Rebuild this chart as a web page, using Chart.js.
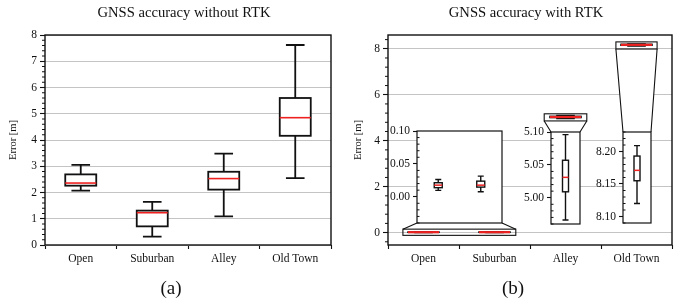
<!DOCTYPE html>
<html><head><meta charset="utf-8">
<script src="https://cdn.jsdelivr.net/npm/chart.js@4.4.0/dist/chart.umd.min.js"></script>
<style>
html,body{margin:0;padding:0;background:#fff;}
#wrap{position:relative;width:678px;height:305px;overflow:hidden;background:#fff;}
canvas{position:absolute;}
</style></head><body><div id="wrap">
<canvas id="ca" width="339" height="305" style="left:0;top:0;width:339px;height:305px"></canvas>
<canvas id="cb" width="339" height="305" style="left:339px;top:0;width:339px;height:305px"></canvas>
<canvas id="i1"></canvas><canvas id="i2"></canvas><canvas id="i3"></canvas>
</div>
<script>
// ---------------- DATA ----------------
const categories = ['Open', 'Suburban', 'Alley', 'Old Town'];

// (a) GNSS accuracy without RTK — box-plot statistics, error in metres
const noRtkWhiskerLow  = [2.07, 0.32, 1.09, 2.55];
const noRtkQ1          = [2.26, 0.71, 2.11, 4.16];
const noRtkMedian      = [2.36, 1.23, 2.53, 4.85];
const noRtkQ3          = [2.69, 1.31, 2.79, 5.60];
const noRtkWhiskerHigh = [3.05, 1.64, 3.48, 7.62];

// (b) GNSS accuracy with RTK — box-plot statistics, error in metres
const rtkWhiskerLow  = [0.0096, 0.0076, 4.966, 8.120];
const rtkQ1          = [0.0137, 0.0146, 5.009, 8.155];
const rtkMedian      = [0.0176, 0.0176, 5.031, 8.171];
const rtkQ3          = [0.0213, 0.0237, 5.057, 8.193];
const rtkWhiskerHigh = [0.0263, 0.0313, 5.096, 8.209];

// tick labels
const yTicksA = [0, 1, 2, 3, 4, 5, 6, 7, 8];
const yTicksB = [0, 2, 4, 6, 8];
const yTicksInsetOpen = [0.00, 0.05, 0.10];
const yTicksInsetAlley = [5.00, 5.05, 5.10];
const yTicksInsetOldTown = [8.10, 8.15, 8.20];

const titleA = 'GNSS accuracy without RTK';
const titleB = 'GNSS accuracy with RTK';
const axisTitle = 'Error [m]';

// ---------------- STYLE / LAYOUT ----------------
const SERIF = '"Liberation Serif", "DejaVu Serif", serif';
const INK = '#111';
const GRID = '#c4c4c4';
const RED = '#ee2020';
const TICK_FONT = 11.5;
Chart.defaults.font.family = SERIF;
Chart.defaults.color = INK;
Chart.defaults.animation = false;
Chart.defaults.events = [];

const PANEL_B_LEFT = 339;

// insets of panel (b): which categories, y-limits, pixel placement, zoom-source box (main data units)
const insetGroups = [
  { id: 'i1', cats: [0, 1], yMin: -0.04, yMax: 0.10, ticks: yTicksInsetOpen,
    rect: { l: 417, t: 131, r: 502, b: 223 }, src: { x: [-0.29, 1.30], y: [-0.12, 0.15] },
    boxW: 8, capRatio: 0.75, axisW: 32 },
  { id: 'i2', cats: [2], yMin: 4.96, yMax: 5.10, ticks: yTicksInsetAlley,
    rect: { l: 551, t: 132, r: 580, b: 224 }, src: { x: [1.70, 2.30], y: [4.86, 5.17] },
    boxW: 6, capRatio: 1.0, axisW: 32 },
  { id: 'i3', cats: [3], yMin: 8.09, yMax: 8.23, ticks: yTicksInsetOldTown,
    rect: { l: 623, t: 132, r: 651, b: 223 }, src: { x: [2.71, 3.29], y: [7.99, 8.30] },
    boxW: 6, capRatio: 1.0, axisW: 32 }
];

// ---------------- PLUGINS ----------------
const boxPlugin = {
  id: 'boxes',
  afterDatasetsDraw(chart, args, o) {
    const ctx = chart.ctx, ys = chart.scales.y;
    chart.data.datasets.forEach((ds, di) => {
      const st = ds.boxStats; if (!st) return;
      const meta = chart.getDatasetMeta(di);
      meta.data.forEach((bar, i) => {
        const x = bar.x, w = bar.width, cw = w * o.capRatio;
        const pLo = ys.getPixelForValue(st.lo[i]), pQ1 = ys.getPixelForValue(st.q1[i]);
        const pMed = ys.getPixelForValue(st.med[i]), pQ3 = ys.getPixelForValue(st.q3[i]);
        const pHi = ys.getPixelForValue(st.hi[i]);
        ctx.save();
        ctx.strokeStyle = INK; ctx.lineWidth = o.lw; ctx.lineCap = 'butt';
        ctx.beginPath();
        ctx.moveTo(x, pQ3); ctx.lineTo(x, pHi);
        ctx.moveTo(x, pQ1); ctx.lineTo(x, pLo);
        ctx.moveTo(x - cw / 2, pHi); ctx.lineTo(x + cw / 2, pHi);
        ctx.moveTo(x - cw / 2, pLo); ctx.lineTo(x + cw / 2, pLo);
        ctx.stroke();
        ctx.strokeRect(x - w / 2, pQ3, w, pQ1 - pQ3);
        ctx.strokeStyle = RED; ctx.lineWidth = o.medLw;
        ctx.beginPath(); ctx.moveTo(x - w / 2, pMed); ctx.lineTo(x + w / 2, pMed); ctx.stroke();
        ctx.restore();
      });
    });
  }
};

const framePlugin = {
  id: 'frame',
  beforeDraw(chart, args, o) {
    if (o.fill) {
      const { left, top, right, bottom } = chart.chartArea;
      chart.ctx.save(); chart.ctx.fillStyle = o.fill;
      chart.ctx.fillRect(left, top, right - left, bottom - top); chart.ctx.restore();
    }
  },
  afterDraw(chart, args, o) {
    const ctx = chart.ctx, { left, top, right, bottom } = chart.chartArea;
    ctx.save(); ctx.strokeStyle = INK; ctx.lineWidth = o.lw;
    ctx.strokeRect(left, top, right - left, bottom - top);
    const s = chart.scales.y, m = o.minor;
    if (m) {
      ctx.lineWidth = 1; ctx.beginPath();
      const k0 = Math.ceil(s.min / m.step - 1e-6), k1 = Math.floor(s.max / m.step + 1e-6);
      for (let k = k0; k <= k1; k++) {
        const v = k * m.step;
        if (s.ticks.some(t => Math.abs(t.value - v) < m.step / 10)) continue;
        const p = s.getPixelForValue(v);
        ctx.moveTo(left, p); ctx.lineTo(left + (m.inward ? m.len : -m.len), p);
      }
      ctx.stroke();
    }
    ctx.restore();
  }
};

const textPlugin = {
  id: 'panelText',
  afterDraw(chart, args, o) {
    const ctx = chart.ctx, ca = chart.chartArea;
    ctx.save(); ctx.fillStyle = INK; ctx.textAlign = 'center';
    ctx.textBaseline = 'middle';
    ctx.font = '14.6px ' + SERIF;
    ctx.fillText(o.title, (ca.left + ca.right) / 2 + o.titleDx, 13);
    ctx.textBaseline = 'alphabetic';
    ctx.font = '19px ' + SERIF;
    ctx.fillText(o.caption, o.captionX, 294);
    ctx.restore();
  }
};

const zoomPlugin = {
  id: 'zoomMarks',
  beforeDatasetsDraw(chart, args, o) {
    const ctx = chart.ctx, xs = chart.scales.x, ys = chart.scales.y;
    o.groups.forEach(g => {
      const rl = xs.getPixelForValue(g.src.x[0]), rr = xs.getPixelForValue(g.src.x[1]);
      const rt = ys.getPixelForValue(g.src.y[1]), rb = ys.getPixelForValue(g.src.y[0]);
      const il = g.rect.l - o.offsetX, ir = g.rect.r - o.offsetX;
      let poly;
      if (g.rect.t >= rb) poly = [[rl, rb], [rr, rb], [ir, g.rect.t], [il, g.rect.t]];
      else poly = [[rl, rt], [rr, rt], [ir, g.rect.b], [il, g.rect.b]];
      ctx.save();
      ctx.fillStyle = '#fff';
      ctx.beginPath(); poly.forEach((p, k) => k ? ctx.lineTo(p[0], p[1]) : ctx.moveTo(p[0], p[1]));
      ctx.closePath(); ctx.fill();
      ctx.strokeStyle = INK; ctx.lineWidth = 1.1;
      ctx.beginPath();
      ctx.moveTo(poly[0][0], poly[0][1]); ctx.lineTo(poly[3][0], poly[3][1]);
      ctx.moveTo(poly[1][0], poly[1][1]); ctx.lineTo(poly[2][0], poly[2][1]);
      ctx.stroke();
      ctx.strokeRect(rl, rt, rr - rl, rb - rt);
      ctx.restore();
    });
  }
};

// ---------------- HELPERS ----------------
function boxDataset(idx, lo, q1, med, q3, hi, thickness) {
  return {
    data: idx.map(i => [q1[i], q3[i]]),
    backgroundColor: '#fff', borderWidth: 0, barThickness: thickness,
    boxStats: { lo: idx.map(i => lo[i]), q1: idx.map(i => q1[i]), med: idx.map(i => med[i]),
                q3: idx.map(i => q3[i]), hi: idx.map(i => hi[i]) }
  };
}
function yAxis(min, max, tickArr, width, fmt, titleOpts) {
  return {
    type: 'linear', min, max,
    afterBuildTicks: s => { s.ticks = tickArr.map(v => ({ value: v })); },
    afterFit: s => { s.width = width; },
    ticks: { font: { size: TICK_FONT }, color: INK, padding: 3, callback: v => fmt(v), autoSkip: false },
    grid: { color: titleOpts ? GRID : 'rgba(0,0,0,0)', lineWidth: 1, drawOnChartArea: !!titleOpts,
            tickLength: 5, tickColor: INK, tickWidth: 1.1 },
    border: { display: false },
    title: titleOpts ? { display: true, text: axisTitle, font: { size: 10.5 }, color: INK,
                         padding: { top: titleOpts.pad, bottom: 0 } } : { display: false }
  };
}
function xAxis(height) {
  return {
    type: 'category',
    afterFit: s => { s.height = height; },
    ticks: { font: { size: 11.5 }, color: INK, padding: 3, maxRotation: 0, autoSkip: false },
    grid: { drawOnChartArea: false, tickLength: 4, tickColor: INK, tickWidth: 1.1 },
    border: { display: false }
  };
}
const all = [0, 1, 2, 3];

// ---------------- PANEL (a) ----------------
new Chart(document.getElementById('ca'), {
  type: 'bar',
  data: { labels: categories,
    datasets: [boxDataset(all, noRtkWhiskerLow, noRtkQ1, noRtkMedian, noRtkQ3, noRtkWhiskerHigh, 31)] },
  options: {
    responsive: false, devicePixelRatio: 1,
    layout: { padding: { left: 0, top: 35, right: 8, bottom: 0 } },
    scales: { x: xAxis(60), y: yAxis(0, 8, yTicksA, 45, v => String(v), { pad: 7 }) },
    plugins: { legend: { display: false }, tooltip: { enabled: false },
      boxes: { lw: 1.8, medLw: 1.6, capRatio: 0.6 },
      frame: { lw: 1.4, minor: { step: 0.2, len: 3, inward: false } },
      panelText: { title: titleA, titleDx: -4, caption: '(a)', captionX: 171 } }
  },
  plugins: [framePlugin, boxPlugin, textPlugin]
});

// ---------------- PANEL (b) ----------------
new Chart(document.getElementById('cb'), {
  type: 'bar',
  data: { labels: categories,
    datasets: [boxDataset(all, rtkWhiskerLow, rtkQ1, rtkMedian, rtkQ3, rtkWhiskerHigh, 31)] },
  options: {
    responsive: false, devicePixelRatio: 1,
    layout: { padding: { left: 0, top: 35, right: 6, bottom: 0 } },
    scales: { x: xAxis(60), y: yAxis(-0.54, 8.6, yTicksB, 49, v => String(v), { pad: 12.5 }) },
    plugins: { legend: { display: false }, tooltip: { enabled: false },
      boxes: { lw: 1.6, medLw: 2.2, capRatio: 0.6 },
      frame: { lw: 1.4, minor: { step: 0.4, len: 3, inward: false } },
      zoomMarks: { groups: insetGroups, offsetX: PANEL_B_LEFT },
      panelText: { title: titleB, titleDx: -4, caption: '(b)', captionX: 174 } }
  },
  plugins: [framePlugin, zoomPlugin, boxPlugin, textPlugin]
});

// ---------------- INSETS ----------------
insetGroups.forEach(g => {
  const padT = 10, padB = 10, padR = 2;
  const cv = document.getElementById(g.id);
  const w = g.axisW + (g.rect.r - g.rect.l) + padR;
  const h = padT + (g.rect.b - g.rect.t) + padB;
  cv.width = w; cv.height = h; cv.style.width = w + 'px'; cv.style.height = h + 'px';
  const ch = new Chart(cv, {
    type: 'bar',
    data: { labels: g.cats.map(i => categories[i]),
      datasets: [boxDataset(g.cats, rtkWhiskerLow, rtkQ1, rtkMedian, rtkQ3, rtkWhiskerHigh, g.boxW)] },
    options: {
      responsive: false, devicePixelRatio: 1,
      layout: { padding: { left: 0, top: padT, right: padR, bottom: padB } },
      scales: {
        x: { type: 'category', display: false },
        y: Object.assign(yAxis(g.yMin, g.yMax, g.ticks, g.axisW, v => v.toFixed(2), null),
                         { grid: { drawOnChartArea: false, tickLength: 4, tickColor: INK, tickWidth: 1.1 } })
      },
      plugins: { legend: { display: false }, tooltip: { enabled: false },
        boxes: { lw: 1.4, medLw: 1.5, capRatio: g.capRatio },
        frame: { lw: 1.2, fill: '#fff', minor: { step: 0.01, len: 2.5, inward: true } } }
    },
    plugins: [framePlugin, boxPlugin]
  });
  const ca = ch.chartArea;
  cv.style.left = (g.rect.l - ca.left) + 'px';
  cv.style.top = (g.rect.t - ca.top) + 'px';
});
</script>
</body></html>
